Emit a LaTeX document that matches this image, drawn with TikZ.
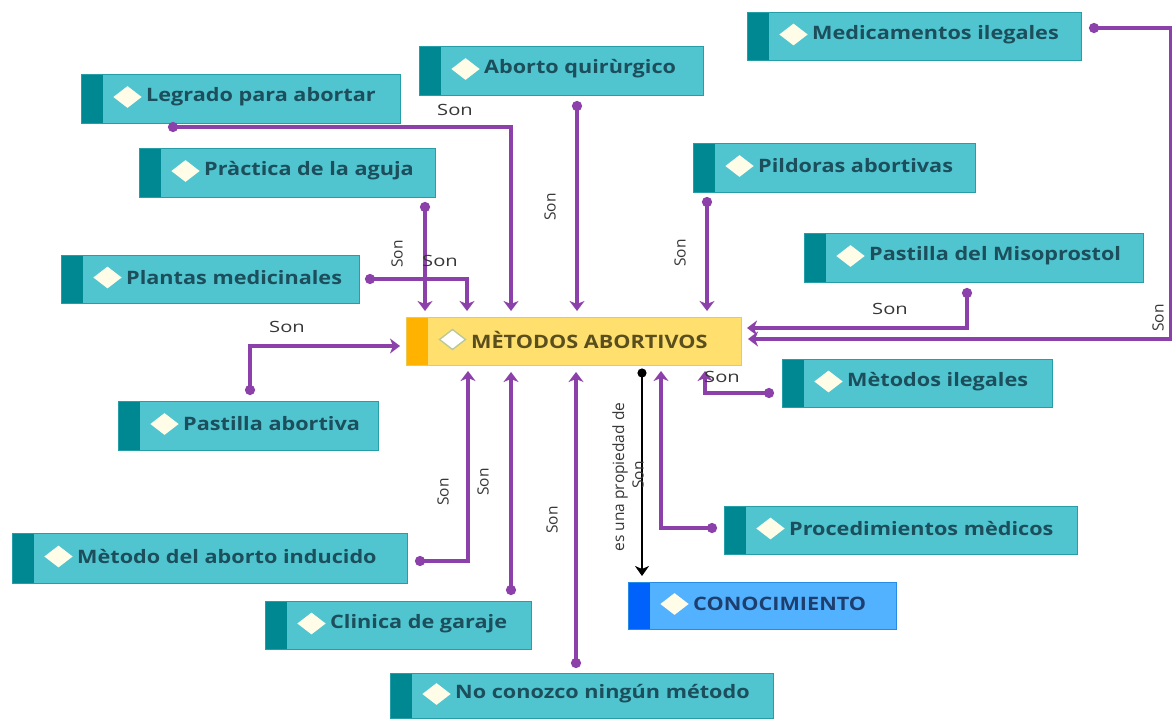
\documentclass[tikz,border=0pt]{standalone}
\usepackage{fontspec}
\setmainfont{Open Sans}
\newfontfamily\boxfont{Open Sans}[FakeStretch=1.17]
\newfontfamily\lblfont{Open Sans}[FakeStretch=1.3]
\usetikzlibrary{arrows.meta,calc}
\definecolor{cyanF}{RGB}{80,197,208}
\definecolor{cyanB}{RGB}{38,158,168}
\definecolor{cyanS}{RGB}{0,136,146}
\definecolor{tealtxt}{RGB}{28,78,92}
\definecolor{yelF}{RGB}{255,224,110}
\definecolor{yelB}{RGB}{238,200,80}
\definecolor{yelS}{RGB}{255,178,0}
\definecolor{olivetxt}{RGB}{90,78,30}
\definecolor{bluF}{RGB}{82,178,255}
\definecolor{bluB}{RGB}{40,140,230}
\definecolor{bluS}{RGB}{0,98,250}
\definecolor{bluetxt}{RGB}{30,62,110}
\definecolor{diaF}{RGB}{255,252,232}
\definecolor{diaE}{RGB}{190,200,150}
\definecolor{purp}{RGB}{140,64,170}
\definecolor{lbltxt}{RGB}{55,55,55}
\tikzset{
  box/.style n args={5}{draw=#1, fill=#2, line width=1pt, inner sep=0pt,
    path picture={
      \fill[#3] (path picture bounding box.north west) rectangle ([xshift=21pt]path picture bounding box.south west);
      \path[fill=#4, draw=#5, line width=1.4pt] ([xshift=33pt,yshift=2pt]path picture bounding box.west) -- ++(13pt,10pt) -- ++(13pt,-10pt) -- ++(-13pt,-10pt) -- cycle;
    }},
  cbox/.style={box={cyanB}{cyanF}{cyanS}{diaF}{diaF}},
  ybox/.style={box={yelB}{yelF}{yelS}{white}{diaE}},
  bbox/.style={box={bluB}{bluF}{bluS}{diaF}{diaF}},
  btxt/.style={font=\boxfont\bfseries\fontsize{18.5}{22}\selectfont, inner sep=0pt, anchor=west},
  hlbl/.style={font=\lblfont\fontsize{15.5}{18}\selectfont, text=lbltxt, inner sep=0pt},
  vlbl/.style={font=\fontsize{15.5}{18}\selectfont, text=lbltxt, inner sep=0pt, rotate=90},
  con/.style={draw=purp, line width=3.2pt,
    {Circle[length=10pt,width=10pt]}-{Stealth[length=10pt,width=15pt,inset=3pt]},
    shorten <=-5pt, shorten >=6pt},
  blk/.style={draw=black, line width=2.2pt,
    {Circle[length=9pt,width=9pt]}-{Stealth[length=10pt,width=14pt,inset=3pt]},
    shorten <=-4.5pt, shorten >=6pt},
}
\newcommand\mkbox[8]{%
  \node[#7, anchor=north west, minimum width={#4-#2}, minimum height={#5-#3}] (#1) at (#2,#3) {};
  \node[btxt, text=#8] (#1t) at ([xshift=65pt,yshift=2pt]#1.west) {#6};
}
\begin{document}
\begin{tikzpicture}[x=1pt,y=-1pt]
\useasboundingbox (0,0) rectangle (1172,719);
\fill[white] (0,0) rectangle (1172,719);

\mkbox{med}{747}{12}{1081}{60}{Medicamentos ilegales}{cbox}{tealtxt}
\mkbox{abq}{419}{46}{703}{95}{Aborto quirùrgico}{cbox}{tealtxt}
\mkbox{leg}{81}{74}{400}{123}{Legrado para abortar}{cbox}{tealtxt}
\mkbox{pra}{139}{148}{435}{197}{Pràctica de la aguja}{cbox}{tealtxt}
\mkbox{pil}{693}{143}{975}{192}{Pildoras abortivas}{cbox}{tealtxt}
\mkbox{pla}{61}{255}{359}{303}{Plantas medicinales}{cbox}{tealtxt}
\mkbox{mis}{804}{233}{1143}{282}{Pastilla del Misoprostol}{cbox}{tealtxt}
\mkbox{cen}{406}{317}{741}{365}{MÈTODOS ABORTIVOS}{ybox}{olivetxt}
\mkbox{mil}{782}{359}{1052}{407}{Mètodos ilegales}{cbox}{tealtxt}
\mkbox{pab}{118}{401}{378}{450}{Pastilla abortiva}{cbox}{tealtxt}
\mkbox{ind}{12}{533}{407}{583}{Mètodo del aborto inducido}{cbox}{tealtxt}
\mkbox{pro}{724}{506}{1077}{554}{Procedimientos mèdicos}{cbox}{tealtxt}
\mkbox{con}{628}{582}{896}{629}{CONOCIMIENTO}{bbox}{bluetxt}
\mkbox{cli}{265}{601}{531}{649}{Clinica de garaje}{cbox}{tealtxt}
\mkbox{noc}{390}{673}{773}{718}{No conozco ningún método}{cbox}{tealtxt}

% connector ends
\coordinate (dLeg) at (173,127);
\coordinate (tLeg) at (511,317);
\coordinate (dAbq) at (577,106);
\coordinate (dPra) at (425,207);
\coordinate (dPla) at (370,279);
\coordinate (tPla) at (467,317);
\coordinate (dPil) at (707,202);
\coordinate (dMis) at (967,293);
\coordinate (tMis) at (741,328);
\coordinate (dMed) at (1094,28);
\coordinate (cMed) at (1171,339);
\coordinate (dPab) at (250,390);
\coordinate (tPab) at (406,346);
\coordinate (dMil) at (769,393);
\coordinate (tMil) at (705,365);
\coordinate (dPro) at (712,528);
\coordinate (tPro) at (661,365);
\coordinate (dInd) at (420,561);
\coordinate (tInd) at (468,365);
\coordinate (dCli) at (511,590);
\coordinate (dNoc) at (576,663);
\coordinate (dCon) at (642,373);

\draw[con] (dLeg) -| (tLeg);
\draw[con] (dAbq) -- (dAbq |- cen.north);
\draw[con] (dPra) -- (dPra |- cen.north);
\draw[con] (dPla) -| (tPla);
\draw[con] (dPil) -- (dPil |- cen.north);
\draw[con] (dMis) |- (tMis);
\draw[con] (dMed) -| (cMed) -- (cMed -| cen.east);
\draw[con] (dPab) |- (tPab);
\draw[con] (dMil) -| (tMil);
\draw[con] (dPro) -| (tPro);
\draw[con] (dInd) -| (tInd);
\draw[con] (dCli) -- (dCli |- cen.south);
\draw[con] (dNoc) -- (dNoc |- cen.south);
\draw[blk] (dCon) -- (dCon |- con.north);

% labels
\node[hlbl] (l1) at (455,110) {Son};
\node[vlbl] (l2) at (550,207) {Son};
\node[vlbl] (l3) at (397,254) {Son};
\node[hlbl] (l4) at (440,261) {Son};
\node[vlbl] (l5) at (680,253) {Son};
\node[hlbl] (l6) at (890,309) {Son};
\node[vlbl] (l7) at (1158,318) {Son};
\node[hlbl] (l8) at (287,327) {Son};
\node[hlbl] (l9) at (722,377) {Son};
\node[vlbl] (l10) at (443,492) {Son};
\node[vlbl] (l11) at (483,482) {Son};
\node[vlbl] (l12) at (552,520) {Son};
\node[vlbl] (l13) at (620,477) {es una propiedad de};
\node[vlbl] (l14) at (638,475) {Son};
\end{tikzpicture}
\end{document}
